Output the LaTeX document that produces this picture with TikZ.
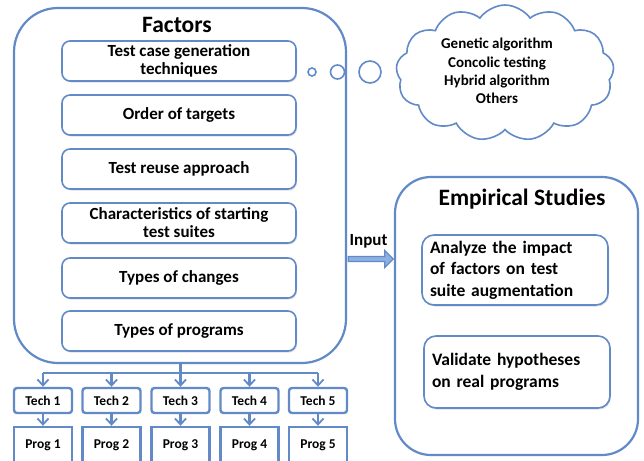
\documentclass[tikz,border=0pt]{standalone}
\usepackage{fontspec}
\setmainfont{Carlito}
\usetikzlibrary{shapes.symbols,shapes.arrows,shapes.misc,arrows.meta,shadows}
\definecolor{edge}{RGB}{98,138,200}
\definecolor{arrowfill}{RGB}{140,176,226}
\tikzset{
  panel/.style={draw=edge, line width=2.2pt, rounded corners=44pt, fill=white},
  factorbox/.style={draw=edge, line width=1.6pt, rounded corners=8pt, fill=white,
    minimum width=234pt, minimum height=40pt, align=center, inner sep=1pt,
    font=\fontsize{17}{18}\selectfont\bfseries,
    drop shadow={shadow xshift=1pt, shadow yshift=-1.5pt, opacity=0.25}},
  studybox/.style={draw=edge, line width=1.6pt, rounded corners=12pt, fill=white,
    minimum width=186pt, align=left, text width=170pt,
    font=\fontsize{17.5}{21.5}\selectfont\bfseries,
    drop shadow={shadow xshift=1pt, shadow yshift=-1.5pt, opacity=0.25}},
  techbox/.style={draw=edge, line width=2.4pt, rounded corners=3pt, fill=white,
    minimum width=58pt, minimum height=25pt, font=\fontsize{13.5}{14}\selectfont\bfseries},
  progbox/.style={draw=edge, line width=2.4pt, chamfered rectangle,
    chamfered rectangle corners=north east, chamfered rectangle xsep=5pt,
    fill=white, minimum width=58pt, minimum height=36pt, inner sep=0pt},
  progtext/.style={font=\fontsize{13.5}{14}\selectfont\bfseries},
  bubble/.style={draw=edge, line width=1.6pt, circle, fill=white, inner sep=0pt},
  conn/.style={draw=edge, line width=2.2pt},
  tip/.style={conn, -{Straight Barb[length=6pt,width=11pt,line width=1.8pt]}},
  title/.style={font=\fontsize{23.5}{26}\selectfont\bfseries}
}
\begin{document}
\begin{tikzpicture}[x=1pt,y=-1pt]
\useasboundingbox (0,0) rectangle (644,460);

% Factors panel and its entries
\node[panel, minimum width=332pt, minimum height=355pt] (factors) at (180,185.5) {};
\node[title] (factorstitle) at (177,25) {Factors};
\node[factorbox] (f1) at (179,61) {Test case generation\\techniques};
\node[factorbox] (f2) at (179,115) {Order of targets};
\node[factorbox] (f3) at (179,169) {Test reuse approach};
\node[factorbox] (f4) at (179,223) {Characteristics of starting\\test suites};
\node[factorbox] (f5) at (179,278) {Types of changes};
\node[factorbox] (f6) at (179,331) {Types of programs};

% thought bubbles leading to the cloud
\node[bubble, minimum size=8pt] (b1) at (312,72) {};
\node[bubble, minimum size=14pt] (b2) at (337.5,72) {};
\node[bubble, minimum size=22pt] (b3) at (370,72) {};
\node[cloud, cloud puffs=13, cloud puff arc=110, aspect=1.6, draw=edge, line width=1.6pt,
  fill=white, minimum width=218pt, minimum height=136pt, inner sep=0pt] (cloud) at (505,73) {};
\node[align=center, font=\fontsize{15}{18.3}\selectfont\bfseries] (cloudtext) at (497,71)
  {Genetic algorithm\\Concolic testing\\Hybrid algorithm\\Others};

% Empirical studies panel
\node[panel, rounded corners=36pt, minimum width=243pt, minimum height=278pt] (studies) at (516.5,316) {};
\node[title] (studiestitle) at (522,199) {Empirical Studies};
\node[studybox, minimum height=70pt] (s1) at (515,270) {Analyze the impact\\of factors on test\\suite augmentation};
\node[studybox, minimum height=72pt] (s2) at (517,372) {Validate hypotheses\\on real programs};

% Input arrow between the panels
\node[single arrow, draw=edge, line width=1.2pt, fill=arrowfill, minimum height=45pt,
  minimum width=17pt, single arrow head extend=4pt, single arrow head indent=0pt,
  inner sep=1pt] (inputarrow) at (369.5,259) {};
\node[font=\fontsize{17}{18}\selectfont\bfseries] (inputlabel) at (368.5,241) {Input};

% techniques and programs
\foreach \i/\x in {1/43,2/111.5,3/180.5,4/249.5,5/318}{
  \node[techbox] (tech\i) at (\x,400.5) {Tech \i};
  \node[progbox] (prog\i) at (\x,445) {};
  \node[progtext] (progtext\i) at (\x,445.5) {Prog \i};
  \draw[tip] (tech\i.south) -- (prog\i.north);
}

% distribution connector
\coordinate (bus) at (180.5,373);
\draw[conn] (factors.south -| bus) -- (bus);
\draw[conn] (tech1.north |- bus) -- (tech5.north |- bus);
\foreach \i in {1,...,5}{
  \draw[tip] (tech\i.north |- bus) -- (tech\i.north);
}
\end{tikzpicture}
\end{document}
